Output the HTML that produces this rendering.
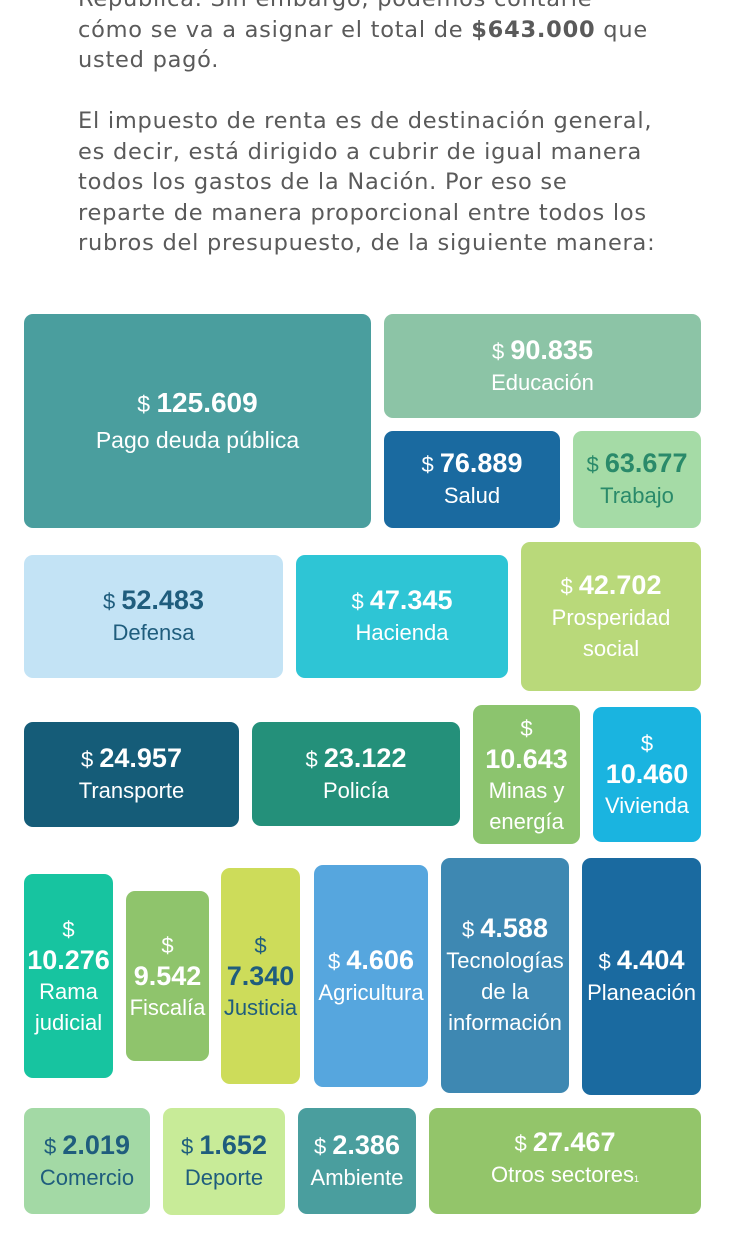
<!DOCTYPE html>
<html><head><meta charset="utf-8"><style>
body{margin:0;width:750px;height:1245px;background:#fff;position:relative;overflow:hidden}
.t{position:absolute;left:78px;font-family:"DejaVu Sans",sans-serif;font-size:22.5px;color:#5a5a5a;line-height:30.5px;white-space:nowrap;letter-spacing:0.75px}
.b{position:absolute;border-radius:9px;display:flex;flex-direction:column;align-items:center;justify-content:center;text-align:center;font-family:"Liberation Sans",sans-serif;color:#fff;font-size:22px;line-height:31px;overflow:visible;white-space:nowrap}
.b b{font-size:27px}
.d{color:#1f5d7d}
</style></head><body>
<div class="t" style="top:-16px">República. Sin embargo, podemos contarle<br>cómo se va a asignar el total de <b>$643.000</b> que<br>usted pagó.</div>
<div class="t" style="top:106px">El impuesto de renta es de destinación general,<br>es decir, está dirigido a cubrir de igual manera<br>todos los gastos de la Nación. Por eso se<br>reparte de manera proporcional entre todos los<br>rubros del presupuesto, de la siguiente manera:</div>

<div class="b" style="left:24px;top:314px;width:347px;height:214px;background:#4a9e9e;font-size:23px;line-height:36px"><span>$ <b style="font-size:28px">125.609</b></span><span>Pago deuda pública</span></div>
<div class="b" style="left:384px;top:314px;width:317px;height:104px;background:#8cc4a6"><span>$ <b>90.835</b></span><span>Educación</span></div>
<div class="b" style="left:384px;top:431px;width:176px;height:97px;background:#1a6aa0"><span>$ <b>76.889</b></span><span>Salud</span></div>
<div class="b" style="left:573px;top:431px;width:128px;height:97px;background:#a5dba6;color:#2a8a6a"><span>$ <b>63.677</b></span><span>Trabajo</span></div>

<div class="b d" style="left:24px;top:555px;width:259px;height:123px;background:#c3e3f5"><span>$ <b>52.483</b></span><span>Defensa</span></div>
<div class="b" style="left:296px;top:555px;width:212px;height:123px;background:#2ec5d5"><span>$ <b>47.345</b></span><span>Hacienda</span></div>
<div class="b" style="left:521px;top:542px;width:180px;height:149px;background:#b9d97a"><span>$ <b>42.702</b></span><span>Prosperidad</span><span>social</span></div>

<div class="b" style="left:24px;top:722px;width:215px;height:105px;background:#155c78"><span>$ <b>24.957</b></span><span>Transporte</span></div>
<div class="b" style="left:252px;top:722px;width:208px;height:104px;background:#24907a"><span>$ <b>23.122</b></span><span>Policía</span></div>
<div class="b" style="left:473px;top:705px;width:107px;height:139px;background:#8cc46e"><span>$</span><b>10.643</b><span>Minas y</span><span>energía</span></div>
<div class="b" style="left:593px;top:707px;width:108px;height:135px;background:#1ab4e0"><span>$</span><b>10.460</b><span>Vivienda</span></div>

<div class="b" style="left:24px;top:874px;width:89px;height:204px;background:#17c4a0"><span>$</span><b>10.276</b><span>Rama</span><span>judicial</span></div>
<div class="b" style="left:126px;top:891px;width:83px;height:170px;background:#8fc46c"><span>$</span><b>9.542</b><span>Fiscalía</span></div>
<div class="b d" style="left:221px;top:868px;width:79px;height:216px;background:#cddc5a"><span>$</span><b>7.340</b><span>Justicia</span></div>
<div class="b" style="left:314px;top:865px;width:114px;height:222px;background:#56a6de"><span>$ <b>4.606</b></span><span>Agricultura</span></div>
<div class="b" style="left:441px;top:858px;width:128px;height:235px;background:#3e88b2"><span>$ <b>4.588</b></span><span>Tecnologías</span><span>de la</span><span>información</span></div>
<div class="b" style="left:582px;top:858px;width:119px;height:237px;background:#1a6aa0"><span>$ <b>4.404</b></span><span>Planeación</span></div>

<div class="b d" style="left:24px;top:1108px;width:126px;height:106px;background:#a3d9a5"><span>$ <b>2.019</b></span><span>Comercio</span></div>
<div class="b d" style="left:163px;top:1108px;width:122px;height:107px;background:#c8eb98"><span>$ <b>1.652</b></span><span>Deporte</span></div>
<div class="b" style="left:298px;top:1108px;width:118px;height:106px;background:#4a9e9e"><span>$ <b>2.386</b></span><span>Ambiente</span></div>
<div class="b" style="left:429px;top:1108px;width:272px;height:106px;background:#93c56a"><span>$ <b>27.467</b></span><span>Otros sectores<span style="font-size:9px">1</span></span></div>
</body></html>
